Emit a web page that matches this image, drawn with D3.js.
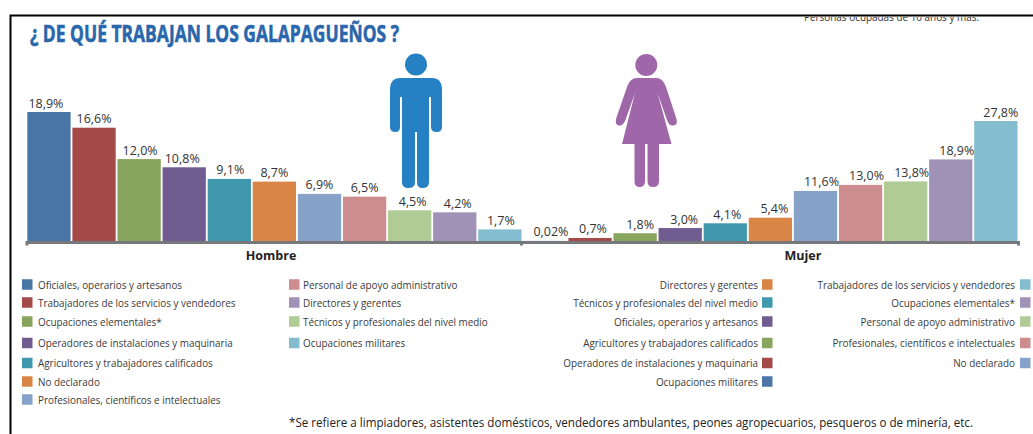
<!DOCTYPE html>
<html><head><meta charset="utf-8">
<script src="https://cdnjs.cloudflare.com/ajax/libs/d3/7.8.5/d3.min.js"></script>
<style>html,body{margin:0;padding:0;background:#fff;overflow:hidden}svg{display:block}text{font-family:"Open Sans",sans-serif}</style>
</head><body><svg id="c" width="1033" height="434"></svg>
<script>
const title = "¿ DE QUÉ TRABAJAN LOS GALAPAGUEÑOS ?";
const subtitle = "Personas ocupadas de 10 años y más.";
const footnote = "*Se refiere a limpiadores, asistentes domésticos, vendedores ambulantes, peones agropecuarios, pesqueros o de minería, etc.";
const hombreCats = ["Oficiales, operarios y artesanos","Trabajadores de los servicios y vendedores","Ocupaciones elementales*","Operadores de instalaciones y maquinaria","Agricultores y trabajadores calificados","No declarado","Profesionales, científicos e intelectuales","Personal de apoyo administrativo","Técnicos y profesionales del nivel medio","Directores y gerentes","Ocupaciones militares"];
const hombreVals = [18.9,16.6,12.0,10.8,9.1,8.7,6.9,6.5,4.5,4.2,1.7];
const hombreLabels = ["18,9%","16,6%","12,0%","10,8%","9,1%","8,7%","6,9%","6,5%","4,5%","4,2%","1,7%"];
const hombreNudge = [-3,0,1,-2,1,0,0,0,3,3,1];
const mujerCats = ["Ocupaciones militares","Operadores de instalaciones y maquinaria","Agricultores y trabajadores calificados","Oficiales, operarios y artesanos","Técnicos y profesionales del nivel medio","Directores y gerentes","No declarado","Profesionales, científicos e intelectuales","Personal de apoyo administrativo","Ocupaciones elementales*","Trabajadores de los servicios y vendedores"];
const mujerVals = [0.02,0.7,1.8,3.0,4.1,5.4,11.6,13.0,13.8,18.9,27.8];
const mujerLabels = ["0,02%","0,7%","1,8%","3,0%","4,1%","5,4%","11,6%","13,0%","13,8%","18,9%","27,8%"];
const mujerNudge = [6,3,5,4,2,4,6,6,6,6,5];
const palette = ["#4a76a6","#a44a49","#87a55c","#715c92","#3f98ae","#d98546","#87a2c8","#cd8c8d","#b0cb95","#a092b7","#84bdcf"];

const svg = d3.select("#c");
const baseY = 241;
const x = d3.scaleBand().domain(d3.range(22)).range([27.3,1017.5]).paddingInner(0.04).paddingOuter(0);
const yH = d3.scaleLinear().domain([0,18.9]).range([baseY,112]);
const yM = d3.scaleLinear().domain([0,27.8]).range([baseY,121]);

// frame
svg.append("path").attr("d","M10.5,434V15.5H1033").attr("fill","none").attr("stroke","#000").attr("stroke-width",2);

// clipped subtitle
svg.append("clipPath").attr("id","cl").append("rect").attr("x",780).attr("y",17).attr("width",253).attr("height",10);
svg.append("text").text(subtitle).attr("x",804).attr("y",21).attr("font-size",10.5).attr("fill","#333")
  .attr("textLength",175).attr("lengthAdjust","spacingAndGlyphs").attr("clip-path","url(#cl)");

// title
svg.append("text").text(title).attr("x",30).attr("y",42).attr("fill","#2a66ab").attr("stroke","#2a66ab").attr("stroke-width",0.6)
  .attr("font-size",24).attr("font-weight",700)
  .style("font-family","'Liberation Sans Narrow','Open Sans',sans-serif")
  .attr("textLength",369).attr("lengthAdjust","spacingAndGlyphs");

function group(vals,labels,nudge,y,offset){
  const g = svg.append("g");
  g.selectAll("rect").data(vals).join("rect")
    .attr("x",(d,i)=>x(i+offset)).attr("width",x.bandwidth())
    .attr("y",d=>y(d)).attr("height",d=>baseY-y(d))
    .attr("fill",(d,i)=>palette[i]);
  g.selectAll("text").data(vals).join("text")
    .attr("x",(d,i)=>x(i+offset)+x.bandwidth()/2+nudge[i]).attr("y",d=>y(d)-4.5)
    .attr("text-anchor","middle").attr("font-size",12.5).attr("fill","#333")
    .text((d,i)=>labels[i]);
}
group(hombreVals,hombreLabels,hombreNudge,yH,0);
group(mujerVals,mujerLabels,mujerNudge,yM,11);

// axis
svg.append("path").attr("d","M27,245.5V242.5H521.5V245.5M521.5,242.5H1018.5V245.5").attr("fill","none").attr("stroke","#77787b").attr("stroke-width",3);
svg.append("text").text("Hombre").attr("x",271).attr("y",260).attr("text-anchor","middle").attr("font-size",12.5).attr("font-weight",700).attr("fill","#222");
svg.append("text").text("Mujer").attr("x",803).attr("y",260).attr("text-anchor","middle").attr("font-size",12.5).attr("font-weight",700).attr("fill","#222");

// icons
svg.append("circle").attr("cx",416).attr("cy",64.5).attr("r",11).attr("fill","#2581c4");
svg.append("path").attr("fill","#2581c4").attr("d","M400,78H432Q442,78 442,90V127Q442,132 436.5,132Q431,132 431,127V97H429V182Q429,188 422.5,188Q417,188 417,182V132H415V182Q415,188 408.5,188Q402,188 402,182V97H400V127Q400,132 395.5,132Q390,132 390,127V90Q390,78 400,78Z");
svg.append("circle").attr("cx",646.3).attr("cy",65).attr("r",11).attr("fill","#a066aa");
svg.append("path").attr("fill","#a066aa").attr("d","M637,78H656Q663,78 666,87L676.5,119Q678,125 673,125.5Q669,126 667,120L657.5,93L671.5,144H659V181Q659,187 653,187Q647.5,187 647.5,181V144H645V181Q645,187 639.5,187Q634.5,187 634.5,181V144H622L635,93L625.5,120Q623,126 619,125.5Q615,125 616,119L627,87Q630,78 637,78Z");

// legends
const legendRowY = [284.5,302.5,321.5,343,363,381.5,399.5];
const legendSize = 10.5;
const legendCol1 = [0,1,2,3,4,5,6];
const legendCol2 = [7,9,8,10];
const legendCol3 = [5,4,3,2,1,0];
const legendCol4 = [10,9,8,7,6];
function legend(cats,order,swX,anchor,textX){
  const g = svg.append("g");
  order.forEach((k,i)=>{
    g.append("rect").attr("x",swX).attr("y",legendRowY[i]-legendSize/2).attr("width",legendSize).attr("height",legendSize).attr("fill",palette[k]);
    g.append("text").text(cats[k]).attr("x",0).attr("y",0).attr("font-size",11).attr("fill","#3a3a3a")
      .attr("text-anchor",anchor)
      .attr("transform",`translate(${textX},${legendRowY[i]+4}) scale(0.9,1)`);
  });
}
legend(hombreCats,legendCol1,22,"start",38);
legend(hombreCats,legendCol2,289,"start",303);
legend(mujerCats,legendCol3,762,"end",758);
legend(mujerCats,legendCol4,1020,"end",1015);

svg.append("text").text(footnote).attr("x",289).attr("y",427).attr("font-size",12.5).attr("fill","#222")
  .attr("textLength",684).attr("lengthAdjust","spacingAndGlyphs");
</script></body></html>
